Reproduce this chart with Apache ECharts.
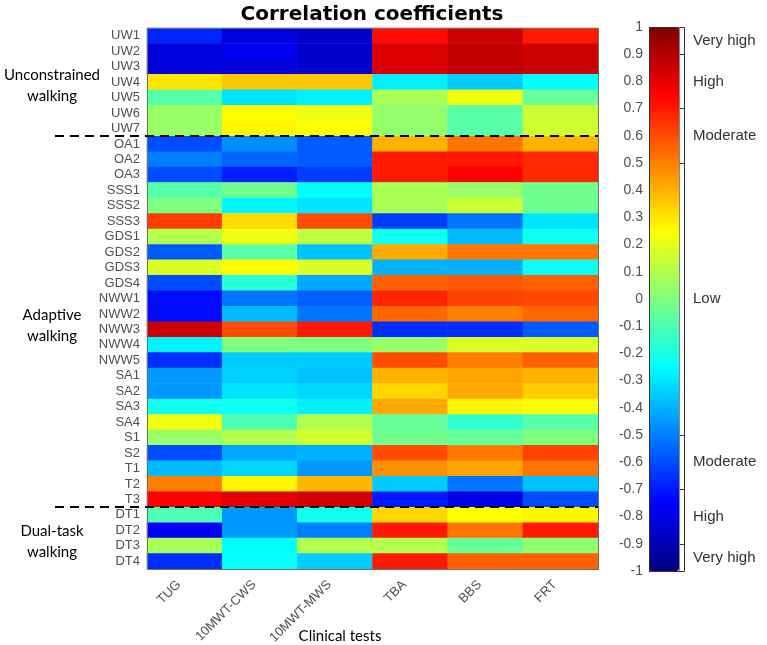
<!DOCTYPE html>
<html><head><meta charset="utf-8">
<script src="https://cdn.jsdelivr.net/npm/echarts@6/dist/echarts.min.js"></script>
<style>html,body{margin:0;padding:0;background:#fff}#c{width:767px;height:645px}</style>
</head><body><div id="c"></div>
<script>
const rows = ['UW1','UW2','UW3','UW4','UW5','UW6','UW7',
  'OA1','OA2','OA3','SSS1','SSS2','SSS3','GDS1','GDS2','GDS3','GDS4',
  'NWW1','NWW2','NWW3','NWW4','NWW5','SA1','SA2','SA3','SA4',
  'S1','S2','T1','T2','T3','DT1','DT2','DT3','DT4'];
const tests = ['TUG','10MWT-CWS','10MWT-MWS','TBA','BBS','FRT'];

const TUG = [-0.68,-0.82,-0.82,0.30,-0.08,0.05,0.05,
  -0.60,-0.50,-0.60,-0.08,0.00,0.63,0.10,-0.57,0.18,-0.60,
  -0.73,-0.73,0.85,-0.27,-0.66,-0.45,-0.45,-0.22,0.22,
  0.05,-0.60,-0.38,0.50,0.75,-0.10,-0.77,0.08,-0.66];
const CWS = [-0.82,-0.78,-0.82,0.36,-0.30,0.25,0.27,
  -0.47,-0.55,-0.69,-0.03,-0.27,0.32,0.22,-0.08,0.25,-0.17,
  -0.52,-0.38,0.60,0.00,-0.35,-0.34,-0.30,-0.22,-0.10,
  0.10,-0.42,-0.33,0.27,0.81,-0.45,-0.45,-0.25,-0.24];
const MWS = [-0.85,-0.85,-0.85,0.36,-0.28,0.22,0.24,
  -0.57,-0.57,-0.63,-0.25,-0.30,0.60,0.12,-0.37,0.18,-0.42,
  -0.56,-0.52,0.70,0.00,-0.35,-0.37,-0.33,-0.28,0.10,
  0.16,-0.40,-0.45,0.39,0.84,-0.22,-0.50,0.10,-0.35];
const TBA = [0.73,0.82,0.82,-0.28,0.08,0.04,0.04,
  0.40,0.70,0.70,0.08,0.08,-0.63,-0.22,0.42,-0.40,0.56,
  0.68,0.55,-0.66,0.05,0.60,0.40,0.33,0.42,-0.05,
  -0.03,0.60,0.47,-0.35,-0.70,0.33,0.70,0.10,0.70];
const BBS = [0.85,0.87,0.87,-0.35,0.22,-0.08,-0.08,
  0.52,0.70,0.75,0.05,0.15,-0.52,-0.38,0.52,-0.40,0.58,
  0.62,0.50,-0.66,0.18,0.50,0.43,0.42,0.27,-0.15,
  -0.05,0.51,0.43,-0.52,-0.80,0.25,0.52,-0.05,0.56];
const FRT = [0.70,0.85,0.85,-0.25,-0.05,0.15,0.16,
  0.40,0.67,0.67,-0.03,-0.03,-0.30,-0.22,0.52,-0.23,0.56,
  0.61,0.55,-0.57,0.18,0.56,0.40,0.35,0.25,-0.08,
  0.00,0.62,0.52,-0.37,-0.60,0.27,0.70,0.03,0.56];
const columns = [TUG, CWS, MWS, TBA, BBS, FRT];

const levelNames = ['Very high','High','Moderate','Low','Moderate','High','Very high'];
const levelPositions = [0.95,0.8,0.6,0,-0.6,-0.8,-0.95];
const levelBounds = [0.9,0.7,0.5,-0.5,-0.7,-0.9];
const groups = [
  {label:'Unconstrained\nwalking', first:'UW1', last:'UW7'},
  {label:'Adaptive\nwalking', first:'OA1', last:'T3'},
  {label:'Dual-task\nwalking', first:'DT1', last:'DT4'}
];
const jet = ['#00007F','#0000FF','#007FFF','#00FFFF','#7FFF7F','#FFFF00','#FF7F00','#FF0000','#7F0000'];

const data = [];
columns.forEach((col, ci) => col.forEach((v, ri) => data.push([ci, ri, v])));

const G = {left:147, top:28, width:451, height:541};
const C = {left:649, top:27, width:35, height:544};
const BAR_W = 30;
const FONT = '"Liberation Sans", Arial, sans-serif';

const chart = echarts.init(document.getElementById('c'), null, {renderer:'canvas'});
chart.setOption({
  animation:false,
  backgroundColor:'#fff',
  textStyle:{fontFamily:FONT},
  grid:[
    Object.assign({outerBoundsMode:'none', containLabel:false}, G),
    Object.assign({outerBoundsMode:'none', containLabel:false}, C)
  ],
  xAxis:[
    {type:'category', gridIndex:0, data:tests,
     axisLine:{show:false}, axisTick:{show:false}, splitLine:{show:false},
     axisLabel:{rotate:45, interval:0, margin:8, padding:[0,8,0,0], fontSize:13, color:'#505050', fontFamily:FONT}},
    {type:'category', gridIndex:1, data:[''], show:false}
  ],
  yAxis:[
    {type:'category', gridIndex:0, data:rows, inverse:true,
     axisLine:{show:false}, axisTick:{show:false}, splitLine:{show:false},
     axisLabel:{interval:0, margin:7, fontSize:13, color:'#505050', fontFamily:FONT}},
    {type:'value', gridIndex:1, min:-1, max:1, interval:0.1, position:'left',
     axisLine:{show:false}, splitLine:{show:false},
     axisTick:{show:true, inside:true, length:4, lineStyle:{color:'#333'}},
     axisLabel:{margin:6, fontSize:14, color:'#505050', fontFamily:FONT}},
    {type:'value', gridIndex:1, min:-1, max:1, position:'right',
     axisLine:{show:false}, splitLine:{show:false},
     axisTick:{show:true, inside:true, length:5, customValues:levelBounds, lineStyle:{color:'#333'}},
     axisLabel:{margin:9, fontSize:15, color:'#333', fontFamily:FONT, customValues:levelPositions,
       formatter:(v) => { const i = levelPositions.findIndex(p => Math.abs(p - v) < 1e-6); return i >= 0 ? levelNames[i] : ''; }}}
  ],
  visualMap:{
    type:'continuous', min:-1, max:1, seriesIndex:0, dimension:2,
    left:C.left, top:C.top, itemWidth:BAR_W, itemHeight:C.height, padding:0,
    calculable:false, hoverLink:false, text:null,
    inRange:{color:jet}
  },
  series:[
    {type:'heatmap', xAxisIndex:0, yAxisIndex:0, data:data, itemStyle:{borderWidth:0}},
    {type:'scatter', xAxisIndex:1, yAxisIndex:1, data:[], silent:true}
  ]
});

function rowY(name){ return chart.convertToPixel({yAxisIndex:0}, name); }
const band = G.height / rows.length;
const graphics = [];
graphics.push({type:'text', x:372, y:15, style:{text:'Correlation coefficients', font:'bold 20px "DejaVu Sans", sans-serif', fill:'#000', textAlign:'center', textVerticalAlign:'middle'}});
graphics.push({type:'rect', z:10, shape:{x:G.left+0.5, y:G.top+0.5, width:G.width, height:G.height}, style:{fill:null, stroke:'#707070', lineWidth:1}});
graphics.push({type:'rect', z:10, shape:{x:C.left+0.5, y:C.top+0.5, width:C.width, height:C.height}, style:{fill:null, stroke:'#333', lineWidth:1}});
graphics.push({type:'line', z:10, shape:{x1:C.left+BAR_W+0.5, y1:C.top, x2:C.left+BAR_W+0.5, y2:C.top+C.height}, style:{stroke:'#888', lineWidth:1}});
groups.forEach((g, i) => {
  const y0 = rowY(g.first) - band/2, y1 = rowY(g.last) + band/2;
  graphics.push({type:'text', x:52, y:(y0+y1)/2 + 4, style:{text:g.label, font:'15px Lato, "Open Sans", sans-serif', fill:'#000', textAlign:'center', textVerticalAlign:'middle', lineHeight:21}});
  if (i > 0) {
    graphics.push({type:'line', z:20, shape:{x1:55, y1:Math.round(y0), x2:G.left+G.width, y2:Math.round(y0)}, style:{stroke:'#000', lineWidth:2, lineDash:[9,6]}});
  }
});
graphics.push({type:'text', x:340, y:636, style:{text:'Clinical tests', font:'15px Lato, "Open Sans", sans-serif', fill:'#000', textAlign:'center', textVerticalAlign:'middle'}});
chart.setOption({graphic:graphics});
</script></body></html>
